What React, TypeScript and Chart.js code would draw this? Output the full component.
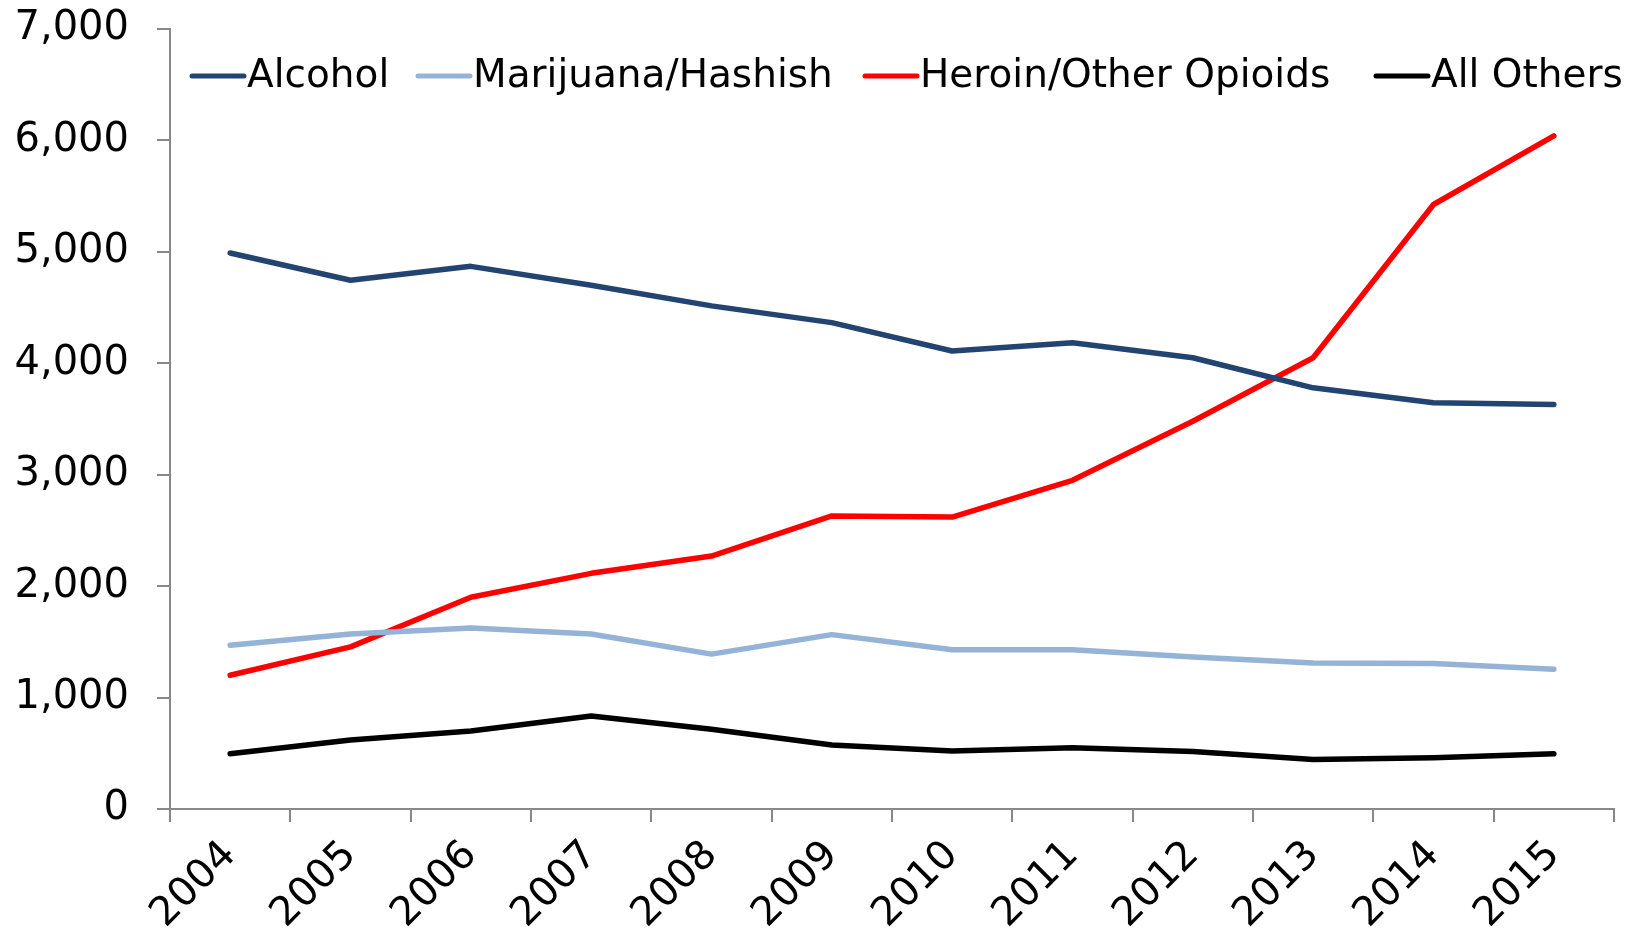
import React, { useEffect, useRef } from "react";
import { Chart, registerables } from "chart.js";

Chart.register(...registerables);

const years = ["2004", "2005", "2006", "2007", "2008", "2009", "2010", "2011", "2012", "2013", "2014", "2015"];
const alcohol = [4990, 4745, 4870, 4700, 4515, 4365, 4110, 4185, 4050, 3780, 3645, 3630];
const marijuana = [1470, 1570, 1625, 1570, 1390, 1565, 1430, 1430, 1365, 1310, 1305, 1255];
const heroin = [1200, 1455, 1900, 2115, 2270, 2630, 2620, 2950, 3480, 4050, 5425, 6040];
const allOthers = [495, 620, 700, 835, 715, 575, 520, 550, 515, 445, 460, 495];

const seriesNames = ["Alcohol", "Marijuana/Hashish", "Heroin/Other Opioids", "All Others"];
const seriesColors = ["#234470", "#95B3D7", "#FF0000", "#000000"];

const FONT = "'DejaVu Sans', sans-serif";
const legendStarts = [190, 416, 863, 1374];

const legendPlugin = {
  id: "customLegend",
  afterDraw(chart: any) {
    const ctx = chart.ctx;
    ctx.save();
    ctx.font = `39px ${FONT}`;
    ctx.textBaseline = "middle";
    ctx.textAlign = "left";
    const y = 76;
    chart.data.datasets.forEach((ds: any, i: number) => {
      const x = legendStarts[i];
      ctx.strokeStyle = ds.borderColor;
      ctx.lineWidth = 5;
      ctx.lineCap = "round";
      ctx.beginPath();
      ctx.moveTo(x + 2, y);
      ctx.lineTo(x + 54, y);
      ctx.stroke();
      ctx.fillStyle = "#000";
      ctx.fillText(ds.label, x + 57, y + 1);
    });
    ctx.restore();
  },
};

export default function App() {
  const ref = useRef<HTMLCanvasElement>(null);
  useEffect(() => {
    document.body.style.margin = "0";
    const values = [alcohol, marijuana, heroin, allOthers];
    const chart = new Chart(ref.current!, {
      type: "line",
      data: {
        labels: years,
        datasets: values.map((v, i) => ({
          label: seriesNames[i],
          data: v,
          borderColor: seriesColors[i],
          backgroundColor: seriesColors[i],
          borderWidth: 5.5,
          pointRadius: 0,
          tension: 0,
          borderCapStyle: "round" as const,
          borderJoinStyle: "round" as const,
        })),
      },
      options: {
        animation: false,
        responsive: false,
        layout: { padding: { top: 29, right: 12, left: 0, bottom: 0 } },
        plugins: { legend: { display: false }, tooltip: { enabled: false } },
        scales: {
          x: {
            offset: true,
            grid: { offset: true, drawOnChartArea: false, drawTicks: true, tickLength: 13, color: "#888888", lineWidth: 2 },
            border: { color: "#888888", width: 2 },
            ticks: {
              color: "#000",
              font: { family: FONT, size: 40 },
              maxRotation: 45,
              minRotation: 45,
              autoSkip: false,
              padding: 10,
            },
            afterFit: (s: any) => {
              s.height = 130;
              s.paddingLeft = 0;
              s.paddingRight = 0;
            },
          },
          y: {
            min: 0,
            max: 7000,
            grid: { drawOnChartArea: false, drawTicks: true, tickLength: 13, color: "#888888", lineWidth: 2 },
            border: { color: "#888888", width: 2 },
            ticks: {
              stepSize: 1000,
              color: "#000",
              font: { family: FONT, size: 40 },
              padding: 28,
            },
            afterFit: (s: any) => {
              s.width = 170;
              s.paddingTop = 0;
              s.paddingBottom = 0;
            },
          },
        },
      },
      plugins: [legendPlugin],
    });
    return () => chart.destroy();
  }, []);
  return <canvas ref={ref} width={1626} height={939} style={{ display: "block" }} />;
}
